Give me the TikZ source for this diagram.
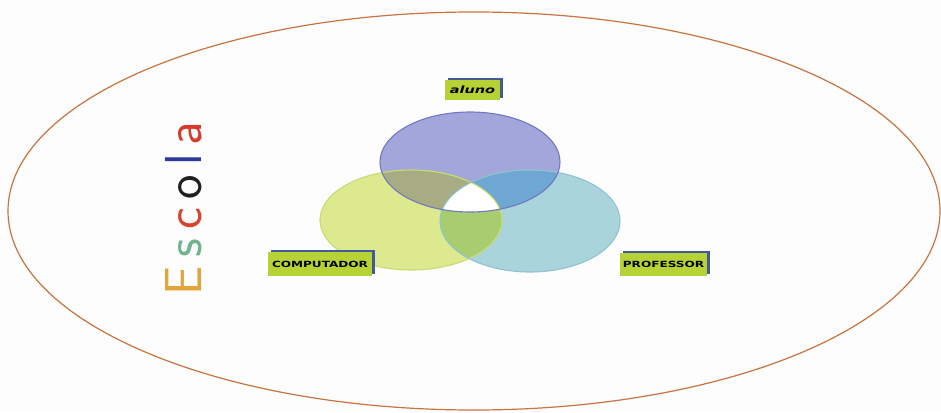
\documentclass[tikz,border=0pt]{standalone}
\usepackage{fontspec}
\usepackage{graphicx}
\usetikzlibrary{shadows}
\newfontfamily\tagfont{DejaVu Sans}
\definecolor{PageWhite}{HTML}{FDFDFD}
\definecolor{SchoolLine}{HTML}{C9733F}
\definecolor{AlunoFill}{HTML}{A3A6DA}
\definecolor{AlunoLine}{HTML}{7078C4}
\definecolor{CompFill}{HTML}{DDE98F}
\definecolor{CompLine}{HTML}{CADB70}
\definecolor{ProfFill}{HTML}{A9D4DC}
\definecolor{ProfLine}{HTML}{8FC3D1}
\definecolor{AlunoComp}{HTML}{A7AC82}
\definecolor{AlunoProf}{HTML}{6EA7D2}
\definecolor{CompProf}{HTML}{A8CD70}
\definecolor{TagGreen}{HTML}{B5D334}
\definecolor{TagShade}{HTML}{44589E}
\definecolor{EscE}{HTML}{E3A43A}
\definecolor{EscS}{HTML}{6FB48E}
\definecolor{EscC}{HTML}{D8442E}
\definecolor{EscO}{HTML}{202020}
\definecolor{EscL}{HTML}{2E3A9C}
\definecolor{EscA}{HTML}{D63A2A}

\begin{document}
\begin{tikzpicture}[
      x=1pt,y=-1pt,
      setline/.style={line width=1.1pt},
      tag/.style={
        fill=TagGreen,
        inner sep=0pt,
        general shadow={fill=TagShade,shadow xshift=3pt,shadow yshift=2pt},
        font=\tagfont\bfseries\fontsize{8.5}{8.5}\selectfont
      }
    ]
      \useasboundingbox[fill=PageWhite] (0,0) rectangle (941,412);
      % school
      \draw[SchoolLine,line width=1.2pt] (474,211) ellipse [x radius=466,y radius=199];
      \node[rotate=90,anchor=base west,inner sep=0pt,
        font=\sffamily\fontsize{52}{52}\selectfont] (escola) at (201,296)
        {\color{EscE}E\hspace{9pt}\color{EscS}s\hspace{9pt}\color{EscC}c\hspace{9pt}\color{EscO}o\hspace{9pt}\color{EscL}l\hspace{9pt}\color{EscA}a};
      % sets
      \fill[AlunoFill] (470,162) ellipse [x radius=90,y radius=50];
      \fill[CompFill] (411,220) ellipse [x radius=91,y radius=50];
      \fill[ProfFill] (530,221) ellipse [x radius=90,y radius=51];
      \begin{scope}
        \clip (470,162) ellipse [x radius=90,y radius=50];
        \fill[AlunoComp] (411,220) ellipse [x radius=91,y radius=50];
        \fill[AlunoProf] (530,221) ellipse [x radius=90,y radius=51];
      \end{scope}
      \begin{scope}
        \clip (411,220) ellipse [x radius=91,y radius=50];
        \fill[CompProf] (530,221) ellipse [x radius=90,y radius=51];
        \clip (530,221) ellipse [x radius=90,y radius=51];
        \fill[white] (470,162) ellipse [x radius=90,y radius=50];
      \end{scope}
      \draw[setline,CompLine] (411,220) ellipse [x radius=91,y radius=50];
      \draw[setline,ProfLine] (530,221) ellipse [x radius=90,y radius=51];
      \draw[setline,AlunoLine] (470,162) ellipse [x radius=90,y radius=50];
      % labels
      \node[tag,minimum width=55pt,minimum height=20pt,font=\tagfont\bfseries\itshape\fontsize{10}{10}\selectfont]
        (aluno) at (472.5,90) {\scalebox{1.45}[1]{aluno}};
      \node[tag,minimum width=104pt,minimum height=24pt] (computador) at (320,264)
        {\scalebox{1.42}[1]{COMPUTADOR}};
      \node[tag,minimum width=87pt,minimum height=23pt] (professor) at (663.5,264.5)
        {\scalebox{1.42}[1]{PROFESSOR}};
    \end{tikzpicture}
\end{document}
